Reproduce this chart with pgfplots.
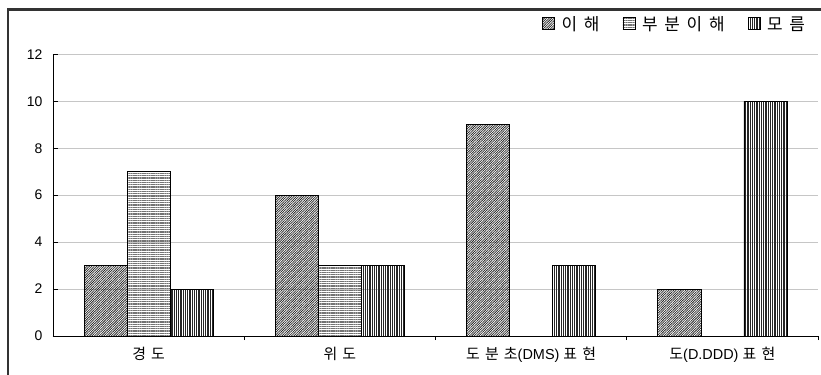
\documentclass[border=0pt]{standalone}
\usepackage{pgfplots}
\pgfplotsset{compat=1.18}
\usetikzlibrary{patterns.meta}
\usepackage{fontspec}
\setmainfont{Liberation Sans}
\newfontfamily\kr[LetterSpace=35]{Noto Sans CJK KR}
\newfontfamily\krl[LetterSpace=40]{Noto Sans CJK KR}
\newcommand{\lt}{\fontspec{Liberation Sans}\fontsize{14.5}{16}\selectfont}
\begin{document}
\begin{tikzpicture}
\begin{axis}[
  at={(0,0)}, anchor=south west,
  scale only axis, width=765bp, height=281.7bp,
  xmin=-0.5, xmax=3.5, ymin=0, ymax=12,
  axis lines*=left,
  axis line style={-, black, line width=0.8bp},
  ytick={0,2,...,12},
  xtick={0,1,2,3},
  xticklabels={{\kr 경도}, {\kr 위도}, {\kr 도분초}{\lt(DMS) }{\kr 표현}, {\kr 도}{\lt(D.DDD) }{\kr 표현}},
  minor xtick={0.5,1.5,2.5,3.5},
  tick align=inside,
  major tick length=5bp, minor tick length=4bp,
  major x tick style={draw=none},
  tick style={black, line width=0.6bp},
  ymajorgrids, grid style={gray!45, line width=0.5bp},
  /pgf/number format/assume math mode=true,
  yticklabel style={font=\fontsize{14}{16}\selectfont, xshift=-7bp},
  xticklabel style={font=\fontsize{15}{17}\selectfont, yshift=-3bp},
  ybar, bar width=0.225,
  legend columns=-1,
  legend style={draw=none, fill=none, at={(axis description cs:0.986,1.107)}, anchor=east,
    font=\krl\fontsize{17}{19}\selectfont, inner sep=0pt,
    /tikz/every odd column/.append style={column sep=5bp},
    /tikz/every even column/.append style={column sep=21bp}},
  legend image code/.code={\draw[#1, draw=black, line width=0.5bp] (0bp,-5.5bp) rectangle (12bp,6.5bp);},
]
\addplot[bar shift=-0.225, draw=black, line width=0.7bp, pattern={Lines[angle=45, distance=1.7bp, line width=0.75bp]}, pattern color=black!85]
  coordinates {(0,3) (1,6) (2,9) (3,2)};
\addplot[bar shift=0, draw=black, line width=0.7bp, pattern={Lines[angle=0, distance=1.8bp, line width=0.6bp]}, pattern color=black!55]
  coordinates {(0,7) (1,3)};
\addplot[bar shift=0.225, draw=black, line width=0.7bp, pattern={Lines[angle=90, distance=1.8bp, line width=0.9bp]}, pattern color=black!85]
  coordinates {(0,2) (1,3) (2,3) (3,10)};
\legend{이해, 부분이해, 모름}
\end{axis}
\draw[black!80, line width=2.2bp] (-45bp,-60bp) -- (-45bp,326.5bp) -- (800bp,326.5bp);
\pgfresetboundingbox
\path[use as bounding box] (-53bp,-39bp) rectangle (768bp,336bp);
\end{tikzpicture}
\end{document}
